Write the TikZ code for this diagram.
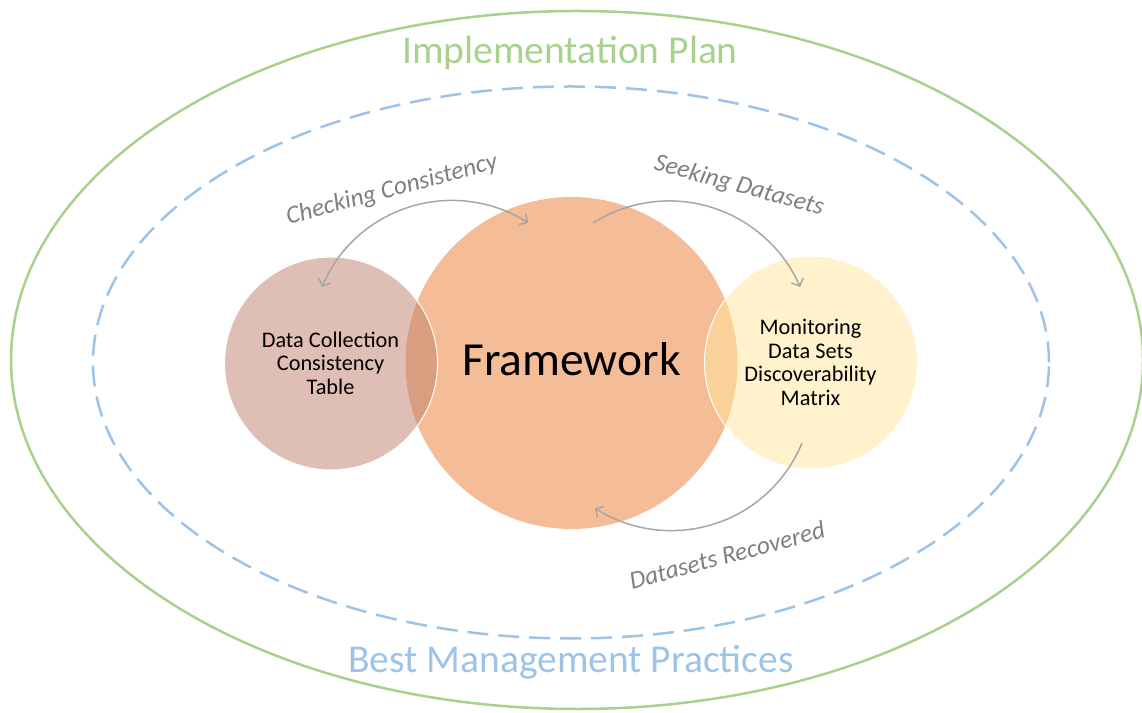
\documentclass[tikz,border=0pt]{standalone}
\usepackage{fontspec}
\setmainfont{Carlito}
\usetikzlibrary{arrows.meta,shapes.geometric}
\definecolor{planG}{HTML}{A9D18E}
\definecolor{bmpB}{HTML}{9DC3E6}
\definecolor{fwO}{HTML}{F5BD97}
\definecolor{dcB}{RGB}{191,127,107}
\definecolor{mdY}{HTML}{FFE599}
\definecolor{lblG}{HTML}{7F7F7F}
\definecolor{arcG}{HTML}{A6A6A6}
\begin{document}
\begin{tikzpicture}[x=1pt,y=1pt,
  ring/.style={draw=planG, line width=2.5pt},
  dashring/.style={draw=bmpB, line width=2.5pt, dash pattern=on 21pt off 10pt},
  bigtitle/.style={font=\fontsize{39.5}{42}\selectfont, inner sep=0pt},
  fwk/.style={circle, fill=fwO, minimum size=332pt, inner sep=0pt},
  smallc/.style={circle, fill opacity=0.5, draw=white, line width=1pt, minimum size=213pt, inner sep=0pt},
  intext/.style={font=\fontsize{22.3}{23.6}\selectfont, align=center, inner sep=0pt},
  arclbl/.style={font=\fontsize{25.3}{27}\itshape, text=lblG, inner sep=0pt},
  flow/.style={draw=arcG, line width=1.5pt, arrows={-Straight Barb[length=6pt,width=13pt]}},
  flow2/.style={draw=arcG, line width=1.5pt, arrows={Straight Barb[length=6pt,width=13pt]-Straight Barb[length=6pt,width=13pt]}}
]
\useasboundingbox (0,0) rectangle (1142,712);
\draw[ring] (577,352) ellipse[x radius=566pt, y radius=349pt];
\draw[dashring] (571,349.5) ellipse[x radius=478pt, y radius=276pt];
\node[bigtitle, text=planG, anchor=base] (plan) at (570,648) {Implementation Plan};
\node[bigtitle, text=bmpB, anchor=base] (bmp) at (571,40) {Best Management Practices};
\node[fwk] (fw) at (571.5,349) {};
\node[smallc, fill=dcB] (dc) at (331,348.5) {};
\node[smallc, fill=mdY] (md) at (811,349.5) {};
\node[font=\fontsize{47.5}{50}\selectfont, inner sep=0pt, anchor=base] (fwt) at (571.5,336) {Framework};
\node[intext] (dct) at (330.5,349) {Data Collection\\Consistency\\Table};
\node[intext] (mdt) at (810.5,349.5) {Monitoring\\Data Sets\\Discoverability\\Matrix};
\node[arclbl, rotate=15] (lcc) at (392,522) {Checking Consistency};
\node[arclbl, rotate=-15] (lsd) at (739,526) {Seeking Datasets};
\node[arclbl, rotate=15] (ldr) at (727,157) {Datasets Recovered};
\coordinate (a1) at (322,425);
\coordinate (a2) at (593,489);
\coordinate (a3) at (802,269);
\draw[flow2] (a1) arc[start angle=157.4, end angle=57.1, radius=140.6pt];
\draw[flow] (a2) arc[start angle=122.3, end angle=23.4, radius=142.6pt];
\draw[flow] (a3) arc[start angle=-22.3, end angle=-122.8, radius=141.2pt];
\end{tikzpicture}
\end{document}
